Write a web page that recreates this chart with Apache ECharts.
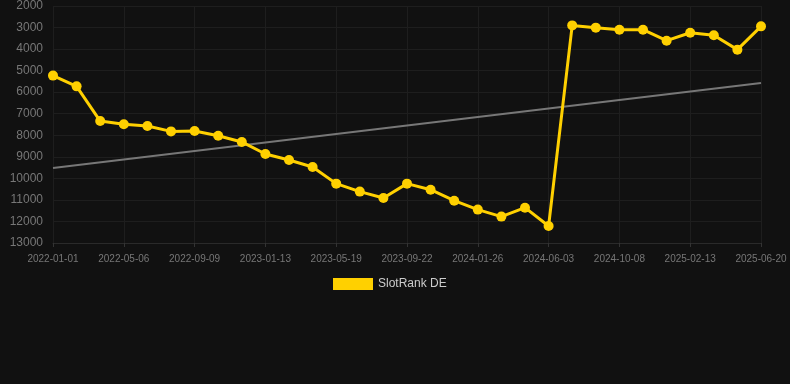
<!DOCTYPE html>
<html>
<head>
<meta charset="utf-8">
<script src="https://cdn.jsdelivr.net/npm/echarts@6/dist/echarts.min.js"></script>
<style>
html,body{margin:0;padding:0;background:#111111;}
#chart{width:790px;height:384px;}
</style>
</head>
<body>
<div id="chart"></div>
<script>
var categories = ['2022-01-01','2022-02-11','2022-03-24','2022-05-06','2022-06-17','2022-07-28','2022-09-09','2022-10-21','2022-12-01','2023-01-13','2023-02-24','2023-04-06','2023-05-19','2023-06-30','2023-08-10','2023-09-22','2023-11-03','2023-12-14','2024-01-26','2024-03-08','2024-04-19','2024-06-03','2024-07-12','2024-08-23','2024-10-08','2024-11-15','2024-12-27','2025-02-13','2025-03-21','2025-05-02','2025-06-20'];
var rankValues = [5230,5730,7340,7490,7570,7820,7800,8020,8310,8870,9150,9470,10245,10615,10910,10245,10525,11035,11450,11775,11360,12210,2900,3005,3100,3100,3610,3240,3360,4025,2945];
var trendStart = 9520;
var trendEnd = 5570;
var seriesName = 'SlotRank DE';
var yTicks = {min: 2000, max: 13000, step: 1000};

var trendData = categories.map(function(c, i){
  if (i === 0) return trendStart;
  if (i === categories.length - 1) return trendEnd;
  return null;
});

var chart = echarts.init(document.getElementById('chart'));
chart.setOption({
  backgroundColor: '#111111',
  animation: false,
  grid: {left: 53, right: 29, top: 6, bottom: 141},
  legend: {
    data: [seriesName],
    top: 273,
    left: 328,
    icon: 'rect',
    itemWidth: 40,
    itemHeight: 12,
    itemGap: 10,
    textStyle: {color: '#cccccc', fontSize: 12, fontFamily: 'Liberation Sans, Arial, sans-serif'}
  },
  xAxis: {
    type: 'category',
    data: categories,
    boundaryGap: false,
    axisLine: {show: true, lineStyle: {color: '#2a2a2a'}},
    axisTick: {show: true, interval: 2, length: 4, lineStyle: {color: '#333333'}},
    axisLabel: {interval: 2, color: '#777777', fontSize: 10, margin: 11, fontFamily: 'Liberation Sans, Arial, sans-serif'},
    splitLine: {show: true, interval: 2, lineStyle: {color: '#1e1e1e'}}
  },
  yAxis: {
    type: 'value',
    inverse: true,
    min: yTicks.min,
    max: yTicks.max,
    interval: yTicks.step,
    axisLine: {show: false},
    axisTick: {show: false},
    axisLabel: {color: '#777777', fontSize: 12, margin: 10, fontFamily: 'Liberation Sans, Arial, sans-serif',
      formatter: function(v){ return String(v); }},
    splitLine: {show: true, lineStyle: {color: '#1e1e1e'}}
  },
  series: [
    {
      name: seriesName,
      type: 'line',
      data: rankValues,
      symbol: 'circle',
      symbolSize: 10,
      lineStyle: {color: '#FFD000', width: 3},
      itemStyle: {color: '#FFD000'},
      z: 3
    },
    {
      name: 'trend',
      type: 'line',
      data: trendData,
      connectNulls: true,
      symbol: 'none',
      lineStyle: {color: '#777777', width: 2},
      itemStyle: {color: '#777777'},
      z: 2
    }
  ]
});
</script>
</body>
</html>
